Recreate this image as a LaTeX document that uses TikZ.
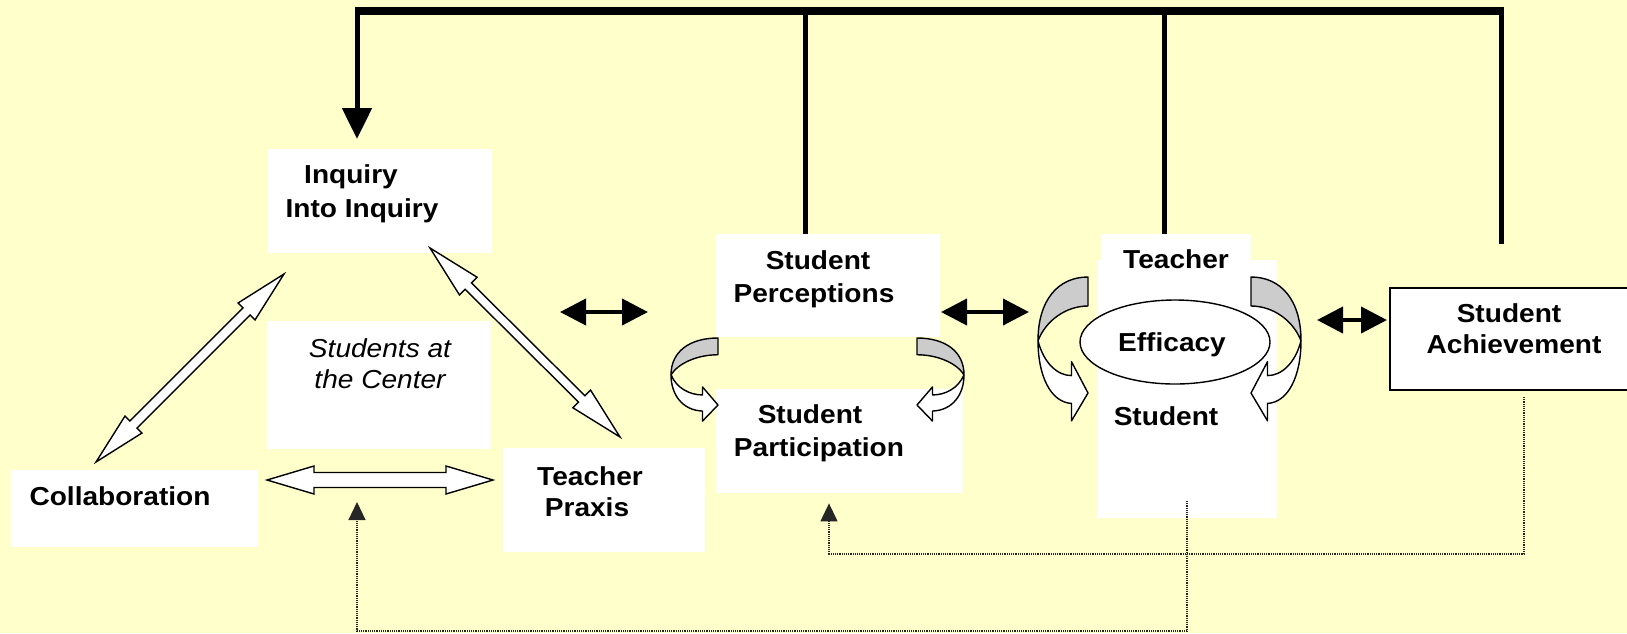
\documentclass[tikz,border=0pt]{standalone}
\usepackage{fontspec}
\setmainfont{Liberation Sans}[FakeStretch=1.08]
\usetikzlibrary{arrows.meta,calc,shapes.geometric}
\definecolor{paper}{RGB}{255,255,204}
\definecolor{ribbongray}{RGB}{204,204,204}

% hollow two-headed block arrow between two named points:
% #1,#2 end points, #3 head length, #4 head half-width, #5 shaft half-width
\newcommand\hollowdbl[5]{%
  \draw[line width=1.4pt, fill=white, line join=miter]
    (#1) -- ($(#1)!#3!(#2)!#4!90:(#2)$) -- ($(#1)!#3!(#2)!#5!90:(#2)$)
    -- ($(#2)!#3!(#1)!#5!-90:(#1)$) -- ($(#2)!#3!(#1)!#4!-90:(#1)$)
    -- (#2)
    -- ($(#2)!#3!(#1)!#4!90:(#1)$) -- ($(#2)!#3!(#1)!#5!90:(#1)$)
    -- ($(#1)!#3!(#2)!#5!-90:(#2)$) -- ($(#1)!#3!(#2)!#4!-90:(#2)$)
    -- cycle;}

\begin{document}
\begin{tikzpicture}[x=1pt,y=-1pt,
  box/.style={rectangle, fill=white, draw=none, inner sep=0pt, anchor=north west},
  lbl/.style={inner sep=0pt, anchor=base, font=\bfseries\fontsize{26}{31}\selectfont},
  ilbl/.style={inner sep=0pt, anchor=base, font=\itshape\fontsize{26}{31}\selectfont},
  bus/.style={line width=8pt},
  feed/.style={line width=5pt},
  bidir/.style={line width=4pt, {Triangle[length=26pt,width=26pt]}-{Triangle[length=26pt,width=26pt]}},
  dotlink/.style={line width=1.2pt, densely dotted, draw=black!85, -{Triangle[length=18pt,width=17pt]}},
  ribbonline/.style={line width=1.4pt, draw=black, line join=round},
  ribbon/.pic={
    % back face of the twisted band
    \path[ribbonline, fill=ribbongray]
      (0,0) .. controls (-0.6,0) and (-1,0.2) .. (-1,0.55)
      .. controls (-0.85,0.38) and (-0.45,0.25) .. (0,0.25) -- cycle;
    % front face ending in the arrow head
    \path[ribbonline, fill=white]
      (-1,0.55) .. controls (-1,0.85) and (-0.75,1.08) .. (-0.33,1.09)
      -- (-0.33,1.24) -- (0,1) -- (-0.33,0.73) -- (-0.33,0.85)
      .. controls (-0.6,0.85) and (-0.88,0.75) .. (-1,0.55) -- cycle;
  },
]
\useasboundingbox (0,0) rectangle (1627,633);
\clip (0,0) rectangle (1627,633);
\fill[paper] (0,0) rectangle (1627,633);

% ---------- boxes ----------
\node[box, minimum width=224pt, minimum height=104pt] (inq)  at (268,149) {};
\node[box, minimum width=224pt, minimum height=128pt] (ctr)  at (267,321) {};
\node[box, minimum width=247pt, minimum height=77pt]  (col)  at (11,470)  {};
\node[box, minimum width=202pt, minimum height=104pt] (prx)  at (503,448) {};
\node[box, minimum width=224pt, minimum height=103pt] (perc) at (716,234) {};
\node[box, minimum width=247pt, minimum height=104pt] (part) at (716,389) {};
\node[box, minimum width=150pt, minimum height=36pt]  (tch)  at (1101,234) {};
\node[box, minimum width=180pt, minimum height=258pt] (eff)  at (1097,260) {};
\node[box, draw=black, line width=2pt, minimum width=260pt, minimum height=102pt] (ach) at (1389,287) {};

% ---------- feedback bus along the top ----------
\coordinate (busL) at (357,11);
\coordinate (t1) at (805,11);
\coordinate (t2) at (1164,11);
\coordinate (t3) at (1501,11);
\coordinate (t3end) at (1501,244);
\draw[feed, -{Triangle[length=31pt,width=29pt]}, shorten >=10pt] (busL) -- (busL |- inq.north);
\draw[feed] (t1) -- (t1 |- perc.north);
\draw[feed] (t2) -- (t2 |- tch.north);
\draw[feed] (t3) -- (t3end);
\draw[bus] ([xshift=-2.5pt]busL) -- ([xshift=2.5pt]t3);

% ---------- hollow two-way arrows of the triangle ----------
\coordinate (colTop) at (96,462);
\coordinate (inqLow) at (284,274);
\coordinate (inqRight) at (430,248);
\coordinate (prxTop) at (620,437);
\coordinate (colRight) at (267,480);
\coordinate (prxLeft) at (493,480);
\hollowdbl{colTop}{inqLow}{53pt}{12pt}{5pt}
\hollowdbl{inqRight}{prxTop}{54pt}{12.5pt}{4.5pt}
\hollowdbl{colRight}{prxLeft}{47pt}{14pt}{7.5pt}

% ---------- solid two-way arrows ----------
\coordinate (a1L) at (560,312);  \coordinate (a1R) at (648,312);
\coordinate (a2L) at (941,312);  \coordinate (a2R) at (1029,312);
\coordinate (a3L) at (1317,320); \coordinate (a3R) at (1387,320);
\draw[bidir] (a1L) -- (a1R);
\draw[bidir] (a2L) -- (a2R);
\draw[bidir] (a3L) -- (a3R);

% ---------- twisted loop arrows ----------
\pic[xscale=47, yscale=67]   at (718,338)  {ribbon};
\pic[xscale=-47, yscale=67]  at (917,338)  {ribbon};
\pic[xscale=50, yscale=116]  at (1088,277) {ribbon};
\pic[xscale=-50, yscale=116] at (1251,277) {ribbon};

% ---------- efficacy ring ----------
\node[ellipse, draw, line width=1.4pt, fill=white, inner sep=0pt,
      minimum width=190pt, minimum height=84pt] (ring) at (1175,342) {};

% ---------- dotted return links ----------
\coordinate (d1) at (1524,397);
\coordinate (d1b) at (829,554);
\draw[dotlink, shorten >=10pt] (d1) |- (d1b) -- (d1b |- part.south);
\coordinate (d2) at (1187,501);
\coordinate (d2b) at (357,631);
\coordinate (d2end) at (357,502);
\draw[dotlink] (d2) |- (d2b) -- (d2end);

% ---------- labels ----------
\node[lbl] (tInq1) at (351,183) {Inquiry};
\node[lbl] (tInq2) at (362,217) {Into Inquiry};
\node[ilbl] (tCtr1) at (380,357) {Students at};
\node[ilbl] (tCtr2) at (380,388) {the Center};
\node[lbl] (tCol) at (120,505) {Collaboration};
\node[lbl] (tPrx1) at (590,485) {Teacher};
\node[lbl] (tPrx2) at (587,516) {Praxis};
\node[lbl] (tPer1) at (818,269) {Student};
\node[lbl] (tPer2) at (814,302) {Perceptions};
\node[lbl] (tPar1) at (810,423) {Student};
\node[lbl] (tPar2) at (819,456) {Participation};
\node[lbl] (tTch) at (1176,268) {Teacher};
\node[lbl] (tEff) at (1172,351) {Efficacy};
\node[lbl] (tStu) at (1166,425) {Student};
\node[lbl] (tAch1) at (1509,322) {Student};
\node[lbl] (tAch2) at (1514,353) {Achievement};
\end{tikzpicture}
\end{document}
